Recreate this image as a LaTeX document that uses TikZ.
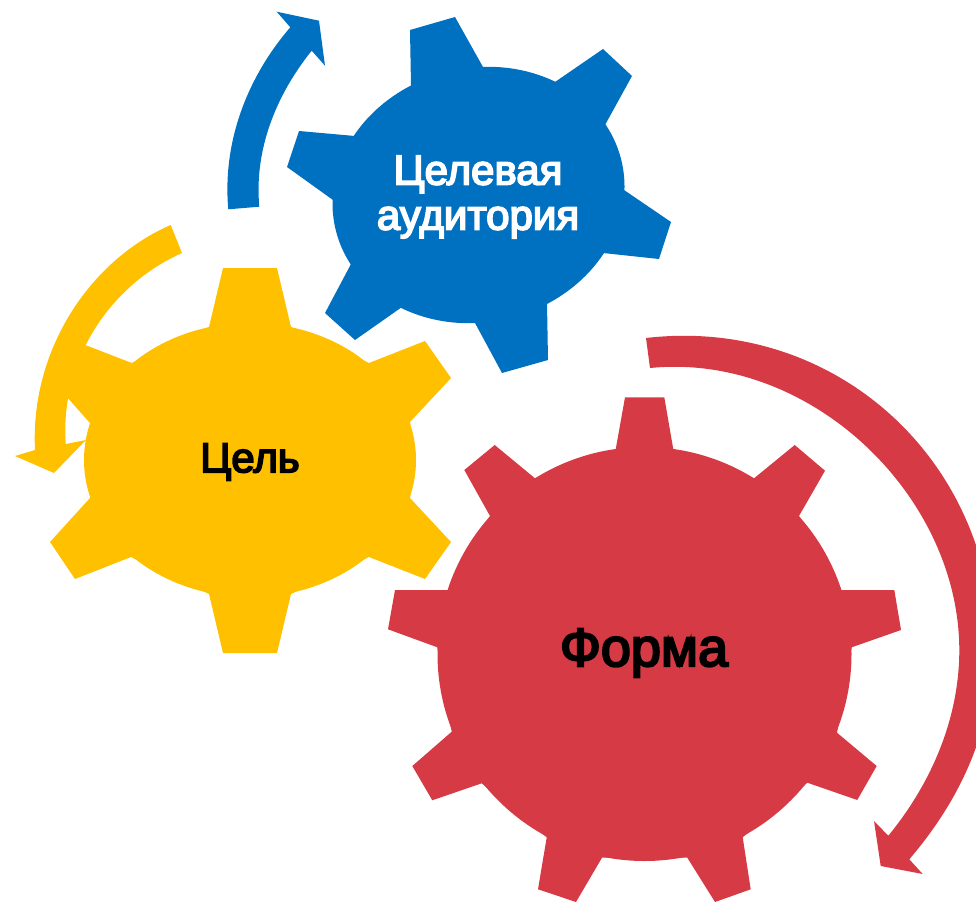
\documentclass[tikz,border=0pt]{standalone}
\usepackage{fontspec}
\setmainfont{Liberation Sans}
\newfontfamily\gearfont{Liberation Sans}[FakeBold=4]
\definecolor{gearblue}{HTML}{0070C0}
\definecolor{gearyellow}{HTML}{FFC000}
\definecolor{gearred}{HTML}{D63B45}
\tikzset{
  gearlabel/.style={align=center,inner sep=0pt,font=\gearfont\fontsize{42}{45}\selectfont},
  formlabel/.style={inner sep=0pt,font=\gearfont\fontsize{54}{56}\selectfont}
}
\begin{document}
\begin{tikzpicture}[x=1pt,y=-1pt]
\useasboundingbox (0,0) rectangle (976,902);
\clip (0,0) rectangle (976,902);
% blue arrow
\fill[gearblue] (228.3,209.3) .. controls (222,140) and (249,75) .. (290.3,27.3)
  -- (276.7,11.7) -- (319,20.7) -- (325,65.7) -- (311.7,50.7)
  .. controls (276,95) and (254,150) .. (259.3,206.7) -- cycle;
% blue gear
\fill[gearblue] (478.5,195) ellipse [x radius=147pt,y radius=127pt,rotate=13.5];
\fill[gearblue] (483,67) -- (455,17) -- (410,30) -- (411,86) -- (355,136) -- (299,131) -- (287,167) -- (333,200)
  -- (351,264) -- (325,313) -- (355,340) -- (402,307) -- (475,323) -- (502,373) -- (548,360) -- (547,303)
  -- (603,253) -- (659,259) -- (671,222) -- (624,190) -- (605,125) -- (632,76) -- (603,49) -- (555,82) -- cycle;
% yellow arrow
\fill[gearyellow] (170.7,225) .. controls (90,260) and (30,350) .. (35,450)
  -- (15,456) -- (54,473) -- (86,440) -- (65.7,444)
  .. controls (60,360) and (110,285) .. (182,253) -- cycle;
% yellow gear
\fill[gearyellow] (250,460) ellipse [x radius=166pt,y radius=137pt];
\fill[gearyellow] (223,268) -- (277,268) -- (291,327) -- (369,363) -- (425,341) -- (451,378) -- (410,422)
  -- (410,498) -- (451,542) -- (425,579) -- (369,557) -- (291,594) -- (277,653) -- (223,653) -- (209,594)
  -- (131,557) -- (75,579) -- (50,542) -- (90,498) -- (90,423) -- (50,378) -- (75,341) -- (131.7,363) -- (209,327) -- cycle;
% red arrow
\fill[gearred] (646,338) .. controls (835,316) and (993,460) .. (993,650)
  .. controls (993,730) and (960,800) .. (909.3,859.3)
  -- (922.7,874) -- (880.7,866) -- (874,821) -- (888.3,835.7)
  .. controls (930,785) and (959.3,720) .. (959.3,650)
  .. controls (959,495) and (810,352) .. (650,368) -- cycle;
% red gear
\fill[gearred] (644.5,654) circle [radius=207pt];
\fill[gearred] (615.7,449.3) -- (625,397.3) -- (664.3,397.3) -- (673.3,449.3)
  -- (754,478.3) -- (794.7,445) -- (825,470.7) -- (799,516)
  -- (841,590) -- (894.3,590) -- (901,630) -- (851.7,647.3)
  -- (837,732.7) -- (876.7,766) -- (857.3,800) -- (807.3,782.7)
  -- (742.7,837.3) -- (750.7,889.3) -- (715,902) -- (687.3,857.7)
  -- (602,857.7) -- (576,902) -- (538,889.3) -- (546.7,837.3)
  -- (481.7,783.3) -- (432.3,800.3) -- (412.3,766) -- (451.7,731.7)
  -- (437.3,647.3) -- (388,629.3) -- (395,590) -- (448,590)
  -- (490,516) -- (464.3,470) -- (494.7,445) -- (535,478.3) -- cycle;
% labels
\node[gearlabel,text=white] (audience) at (478,197) {Целевая\\аудитория};
\node[gearlabel,text=black] (goal) at (250,462) {Цель};
\node[formlabel,text=black] (form) at (644,653) {Форма};
\end{tikzpicture}
\end{document}
